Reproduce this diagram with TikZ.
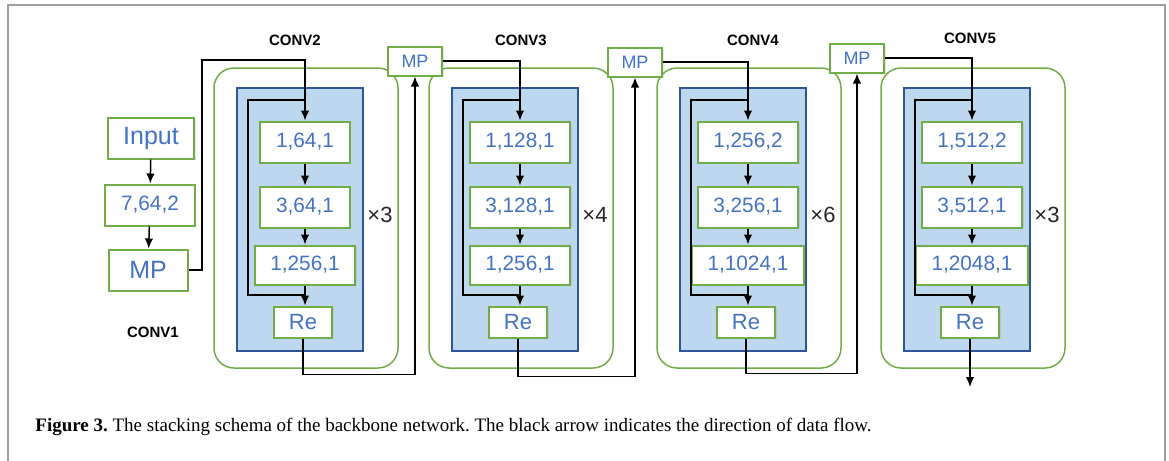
\documentclass[tikz,border=0pt]{standalone}
\usepackage{fontspec}
\setmainfont{Liberation Serif}
\setsansfont{Liberation Sans}
\usetikzlibrary{arrows.meta,shadows}

\definecolor{boxgreen}{HTML}{70AD47}
\definecolor{numblue}{HTML}{4472C4}
\definecolor{blockfill}{HTML}{BDD7EE}
\definecolor{blockline}{HTML}{2F5597}
\definecolor{framegray}{HTML}{A0A0A0}

\begin{document}
\frenchspacing
\begin{tikzpicture}[x=0.5pt,y=-0.5pt,
    blk/.style={draw=boxgreen,line width=1pt,fill=white,text=numblue,
      font=\sffamily\fontsize{10.4}{12}\selectfont,inner xsep=7.8pt,
      minimum height=20.5pt,
      drop shadow={shadow xshift=0.8pt,shadow yshift=-0.8pt,opacity=0.18}},
    flow/.style={line width=0.75pt,-{Latex[length=5pt,width=4.2pt]}},
    link/.style={line width=0.75pt},
    stage/.style={draw=boxgreen,line width=0.75pt,rounded corners=10pt},
    block/.style={draw=blockline,line width=0.75pt,fill=blockfill},
    lbl/.style={font=\sffamily\bfseries\fontsize{7.5}{9}\selectfont},
    times/.style={font=\sffamily\fontsize{11}{13}\selectfont,text=black!85}]
  \useasboundingbox (0,0) rectangle (1169,461);
  \draw[framegray,line width=1pt] (8,461) -- (8,5) -- (1165,5) -- (1165,461);

  % CONV1
  \node[blk,font=\sffamily\fontsize{12.5}{14}\selectfont,minimum width=41.5pt] (in) at (151,138) {Input};
  \node[blk,minimum width=41.5pt] (k7) at (150,205) {7,64,2};
  \node[blk,font=\sffamily\fontsize{12.5}{14}\selectfont,minimum width=39.5pt] (mp1) at (148,270) {MP};
  \draw[flow] (in) -- (k7);
  \draw[flow] (k7) -- (mp1);
  \node[lbl] (c1) at (153,332) {CONV1};

  % residual stages
  \foreach \k/\cx/\ta/\tb/\tc/\rep in {2/305/{1,64,1}/{3,64,1}/{1,256,1}/3,
      3/520/{1,128,1}/{3,128,1}/{1,256,1}/4,
      4/748/{1,256,2}/{3,256,1}/{1,1024,1}/6,
      5/972/{1,512,2}/{3,512,1}/{1,2048,1}/3}{
    \draw[stage] (\cx-91,68) rectangle (\cx+93,368);
    \draw[block] (\cx-68,88) rectangle (\cx+58,351);
    \node[blk] (a\k) at (\cx,142) {\ta};
    \node[blk] (b\k) at (\cx,207) {\tb};
    \node[blk,minimum height=19.5pt] (c\k) at (\cx,265) {\tc};
    \node[blk,font=\sffamily\fontsize{11}{13}\selectfont,minimum height=15.5pt,inner xsep=7.7pt] (re\k) at (\cx-2,322) {Re};
    \draw[flow] (a\k) -- (b\k);
    \draw[flow] (b\k) -- (c\k);
    \draw[flow] (c\k.south) -- (c\k.south |- re\k.north);
    \draw[link] (\cx,100) -- (\cx-57,100) -- (\cx-57,295) -- (\cx,295);
    \node[times] (x\k) at (\cx+75,215) {×\rep};
  }

  \node[lbl] (l2) at (295,40) {CONV2};
  \node[lbl] (l3) at (521,40) {CONV3};
  \node[lbl] (l4) at (753,40) {CONV4};
  \node[lbl] (l5) at (970,38) {CONV5};

  % pooling between stages
  \node[blk,font=\sffamily\fontsize{9}{11}\selectfont,minimum width=27pt,minimum height=14.5pt,inner xsep=6pt] (mp3) at (415,61) {MP};
  \node[blk,font=\sffamily\fontsize{9}{11}\selectfont,minimum width=27pt,minimum height=14.5pt,inner xsep=6pt] (mp4) at (635,62) {MP};
  \node[blk,font=\sffamily\fontsize{9}{11}\selectfont,minimum width=27pt,minimum height=14.5pt,inner xsep=6pt] (mp5) at (857,58) {MP};

  \draw[flow] (mp1.east) -- (202,270) -- (202,60) -| (a2.north);
  \draw[flow] (mp3.east) -| (a3.north);
  \draw[flow] (mp4.east) -| (a4.north);
  \draw[flow] (mp5.east) -| (a5.north);

  \draw[flow] (re2.south) -- ++(0,36) -| (mp3.south);
  \draw[flow] (re3.south) -- ++(0,38) -| (mp4.south);
  \draw[flow] (re4.south) -- ++(0,35) -| (mp5.south);
  \coordinate (out) at (970,387);
  \draw[flow] (re5.south) -- (re5.south |- out);

  \node[anchor=base west,inner sep=0pt,font=\fontsize{9.5}{11}\selectfont] (cap) at (35,431)
    {\textbf{Figure 3.} The stacking schema of the backbone network. The black arrow indicates the direction of data flow.};
\end{tikzpicture}
\end{document}
